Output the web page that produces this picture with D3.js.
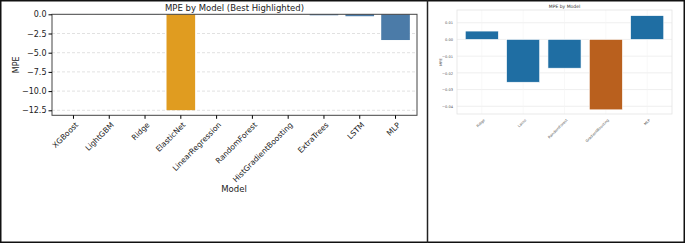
<!DOCTYPE html>
<html>

<head>
  <meta charset="utf-8">
  <title>MPE by Model</title>

  <style>
    body,
    html {
      margin: 0;
      padding: 0;
      background: #fff;
    }

    svg {
      display: block;
    }

    svg text {
      font-family: "DejaVu Sans", sans-serif;
    }
  </style>
</head>

<body>

  <svg id="svg" width="685" height="243"></svg>

  <script src="https://d3js.org/d3.v7.min.js"></script>

  <script>
    // left chart
    const leftModels = ['XGBoost', 'LightGBM', 'Ridge', 'ElasticNet', 'LinearRegression', 'RandomForest',
      'HistGradientBoosting', 'ExtraTrees', 'LSTM', 'MLP']
    const leftMpe = [-0.01, -0.01, -0.02, -12.48, -0.02, -0.01, -0.01, -0.13, -0.25, -3.35]
    const leftBest = 'ElasticNet'
    const leftTicks = [0, -2.5, -5, -7.5, -10, -12.5]

    // right chart
    const rightModels = ['Ridge', 'Lasso', 'RandomForest', 'GradientBoosting', 'MLP']
    const rightMpe = [0.005, -0.0256, -0.0172, -0.0421, 0.0142]
    const rightBest = 'GradientBoosting'
    const rightTicks = [0.01, 0, -0.01, -0.02, -0.03, -0.04]

    const svg = d3.select('#svg')

    // outer frame and divider
    svg.append('rect')
      .attr('x', 0.75).attr('y', 0.75)
      .attr('width', 683.5).attr('height', 241.5)
      .attr('fill', 'none').attr('stroke', '#111').attr('stroke-width', 1.5)
    svg.append('line')
      .attr('x1', 427.5).attr('x2', 427.5)
      .attr('y1', 0).attr('y2', 243)
      .attr('stroke', '#222').attr('stroke-width', 1.5)

    function drawLeft() {
      const left = 52, right = 417, top = 14.3, bottom = 115.3

      const x = d3.scaleBand()
        .domain(leftModels)
        .range([left, right])
        .padding(0.2)

      const y = d3.scaleLinear()
        .domain([-13.15, 0])
        .range([bottom, top])

      const g = svg.append('g')

      // grid
      g.selectAll('.grid')
        .data(leftTicks.slice(1))
        .join('line')
        .attr('x1', left).attr('x2', right)
        .attr('y1', d => y(d)).attr('y2', d => y(d))
        .attr('stroke', '#ccc')
        .attr('stroke-width', 0.6)
        .attr('stroke-dasharray', '3,2')

      g.selectAll('.bar')
        .data(leftModels)
        .join('rect')
        .attr('x', d => x(d))
        .attr('width', x.bandwidth())
        .attr('y', y(0))
        .attr('height', (d, i) => y(leftMpe[i]) - y(0))
        .attr('fill', d => d === leftBest ? '#e09c20' : '#4b7ba8')

      // frame
      g.append('rect')
        .attr('x', left).attr('y', top)
        .attr('width', right - left).attr('height', bottom - top)
        .attr('fill', 'none').attr('stroke', '#444').attr('stroke-width', 1)

      const yAxis = d3.axisLeft(y).tickValues(leftTicks).tickFormat(d3.format('.1f')).tickSize(3.5).tickPadding(2)
      g.append('g')
        .attr('transform', `translate(${left}, 0)`)
        .call(yAxis)
        .attr('font-family', null)
        .call(a => a.select('.domain').remove())
        .call(a => a.selectAll('text').attr('font-size', 8).attr('fill', '#222'))

      const xAxis = d3.axisBottom(x).tickSize(3.5).tickPadding(2)
      g.append('g')
        .attr('transform', `translate(0, ${bottom})`)
        .call(xAxis)
        .attr('font-family', null)
        .call(a => a.select('.domain').remove())
        .call(a => a.selectAll('text')
          .attr('font-size', 7.6)
          .attr('fill', '#222')
          .attr('text-anchor', 'end')
          .attr('dy', '0.6em')
          .attr('transform', 'translate(-2,3) rotate(-45)'))

      g.append('text')
        .attr('x', (left + right) / 2).attr('y', 11)
        .attr('text-anchor', 'middle')
        .attr('font-size', 8.5)
        .attr('fill', '#222')
        .text('MPE by Model (Best Highlighted)')

      g.append('text')
        .attr('transform', `translate(19, ${(top + bottom) / 2}) rotate(-90)`)
        .attr('text-anchor', 'middle')
        .attr('font-size', 8)
        .attr('fill', '#222')
        .text('MPE')

      g.append('text')
        .attr('x', 234).attr('y', 192)
        .attr('text-anchor', 'middle')
        .attr('font-size', 8.5)
        .attr('fill', '#222')
        .text('Model')
    }

    function drawRight() {
      const left = 457, right = 672, top = 10, bottom = 114

      const x = d3.scaleBand()
        .domain(rightModels)
        .range([left, right])
        .padding(0.2)

      const y = d3.scaleLinear()
        .domain([-0.0446, 0.0176])
        .range([bottom, top])

      const g = svg.append('g')

      g.selectAll('.grid')
        .data(rightTicks)
        .join('line')
        .attr('x1', left).attr('x2', right)
        .attr('y1', d => y(d)).attr('y2', d => y(d))
        .attr('stroke', '#ebebeb')
        .attr('stroke-width', 0.8)

      g.selectAll('.vgrid')
        .data(rightModels)
        .join('line')
        .attr('x1', d => x(d) + x.bandwidth() / 2).attr('x2', d => x(d) + x.bandwidth() / 2)
        .attr('y1', top).attr('y2', bottom)
        .attr('stroke', '#f3f3f3')
        .attr('stroke-width', 0.6)

      g.selectAll('.bar')
        .data(rightModels)
        .join('rect')
        .attr('x', d => x(d))
        .attr('width', x.bandwidth())
        .attr('y', (d, i) => y(Math.max(0, rightMpe[i])))
        .attr('height', (d, i) => Math.abs(y(rightMpe[i]) - y(0)))
        .attr('fill', d => d === rightBest ? '#b9601e' : '#1f6ea3')
        .attr('stroke', '#fff')
        .attr('stroke-width', 0.6)

      g.append('rect')
        .attr('x', left).attr('y', top)
        .attr('width', right - left).attr('height', bottom - top)
        .attr('fill', 'none').attr('stroke', '#e3e3e3').attr('stroke-width', 0.8)

      const yAxis = d3.axisLeft(y).tickValues(rightTicks).tickFormat(d3.format('.2f')).tickSize(0).tickPadding(4)
      g.append('g')
        .attr('transform', `translate(${left}, 0)`)
        .call(yAxis)
        .attr('font-family', null)
        .call(a => a.select('.domain').remove())
        .call(a => a.selectAll('text').attr('font-size', 3.6).attr('fill', '#555'))

      const xAxis = d3.axisBottom(x).tickSize(0).tickPadding(4)
      g.append('g')
        .attr('transform', `translate(0, ${bottom})`)
        .call(xAxis)
        .attr('font-family', null)
        .call(a => a.select('.domain').remove())
        .call(a => a.selectAll('text')
          .attr('font-size', 3.6)
          .attr('fill', '#555')
          .attr('text-anchor', 'end')
          .attr('dy', '0.6em')
          .attr('transform', 'translate(-1,2) rotate(-45)'))

      g.append('text')
        .attr('x', (left + right) / 2).attr('y', 7.5)
        .attr('text-anchor', 'middle')
        .attr('font-size', 4.5)
        .attr('fill', '#333')
        .text('MPE by Model')

      g.append('text')
        .attr('transform', `translate(442, ${(top + bottom) / 2}) rotate(-90)`)
        .attr('text-anchor', 'middle')
        .attr('font-size', 3.6)
        .attr('fill', '#555')
        .text('MPE')
    }

    drawLeft()
    drawRight()
  </script>

</body>

</html>
